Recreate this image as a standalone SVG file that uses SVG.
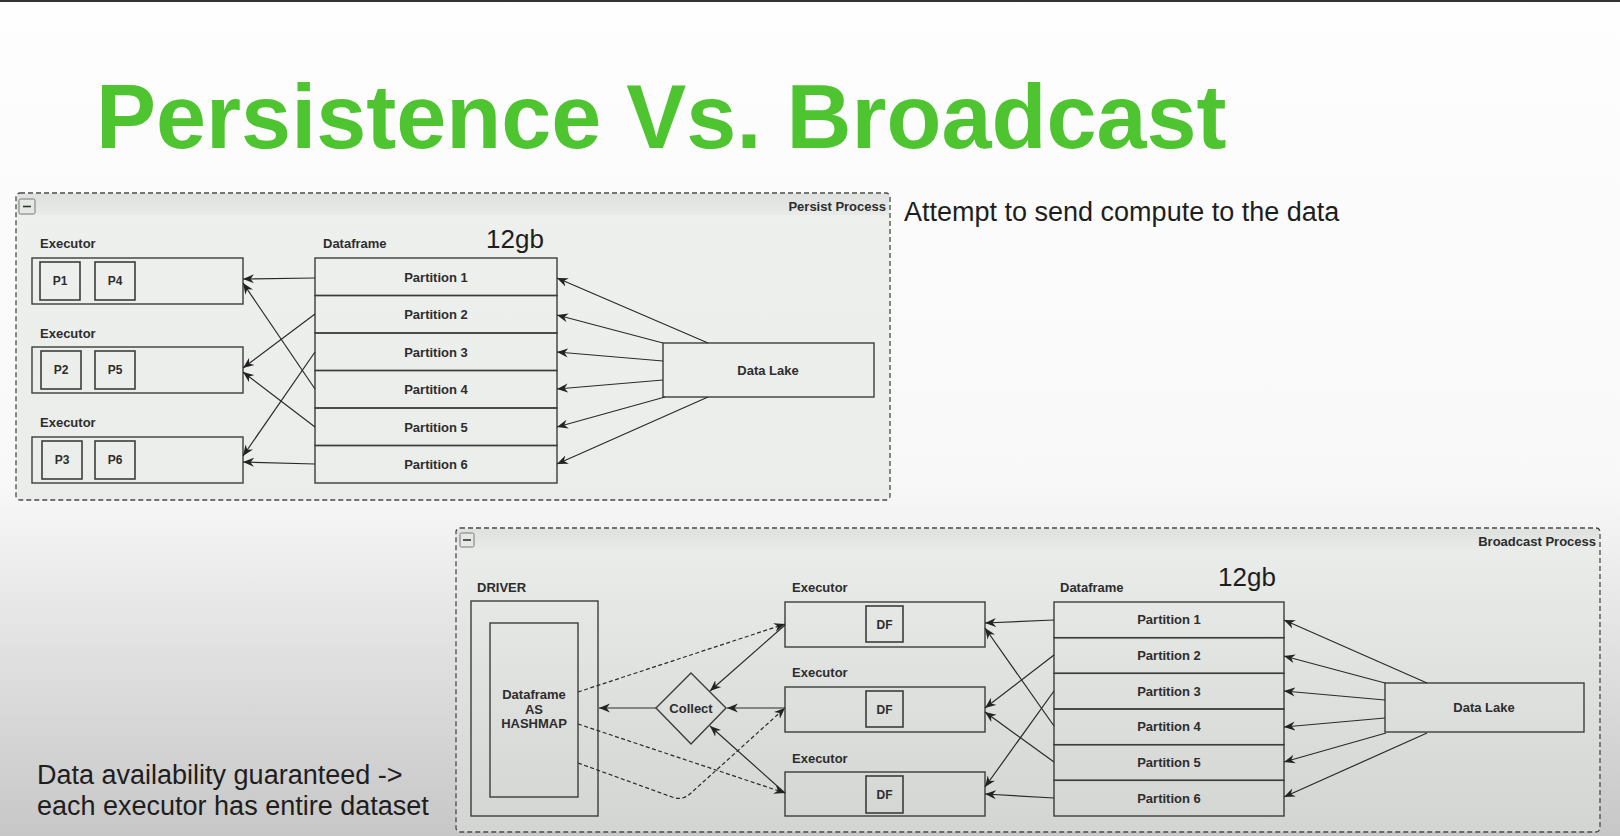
<svg xmlns="http://www.w3.org/2000/svg" width="1620" height="836" viewBox="0 0 1620 836">
  <defs>
    <linearGradient id="slideBg" x1="0" y1="0" x2="0" y2="1">
      <stop offset="0" stop-color="#fdfefd"/>
      <stop offset="0.58" stop-color="#f7f8f7"/>
      <stop offset="1" stop-color="#c6c7c6"/>
    </linearGradient>
    <linearGradient id="persistBody" x1="0" y1="0" x2="0" y2="1">
      <stop offset="0" stop-color="#eef0ee"/>
      <stop offset="1" stop-color="#ebedeb"/>
    </linearGradient>
    <linearGradient id="broadcastBody" x1="0" y1="0" x2="0" y2="1">
      <stop offset="0" stop-color="#eceeec"/>
      <stop offset="1" stop-color="#d3d5d3"/>
    </linearGradient>
    <linearGradient id="header" x1="0" y1="0" x2="0" y2="1">
      <stop offset="0" stop-color="#dfe1df"/>
      <stop offset="1" stop-color="#e9ebe9"/>
    </linearGradient>
    <marker id="ah" viewBox="0 0 12 10" refX="11" refY="5" markerWidth="12" markerHeight="10" markerUnits="userSpaceOnUse" orient="auto">
      <path d="M0,0.5 L11,5 L0,9.5 L3.5,5 z" fill="#222"/>
    </marker>
  </defs>
  <style>
    .box{fill:none;stroke:#3c3c3c;stroke-width:1.4}
    .inner{fill:none;stroke:#3c3c3c;stroke-width:1.6}
    .lbl{font-family:"Liberation Sans",Arial,Helvetica,sans-serif;font-weight:bold;font-size:13px;fill:#2d2d2d}
    .sm{font-size:12px}
    .ctr{text-anchor:middle}
    .end{text-anchor:end}
    .big{font-family:"Liberation Sans",Arial,Helvetica,sans-serif;font-size:26px;fill:#1e1e1e}
    .note{font-family:"Liberation Sans",Arial,Helvetica,sans-serif;font-size:27px;fill:#1e1e1e}
    .frame{stroke:#4a4a4a;stroke-width:1.3;stroke-dasharray:5 3}
    .edge{fill:none;stroke:#2a2a2a;stroke-width:1.2;marker-end:url(#ah)}
    .dash{stroke-dasharray:4 2.5}
  </style>

  <!-- slide background -->
  <rect x="0" y="0" width="1620" height="836" fill="url(#slideBg)"/>
  <rect x="0" y="0" width="1620" height="2" fill="#333"/>

  <!-- title -->
  <text x="96" y="148" font-family="'Liberation Sans',Arial,Helvetica,sans-serif" font-weight="bold" font-size="90" fill="#4ec530">Persistence Vs. Broadcast</text>

  <text class="note" x="904" y="221">Attempt to send compute to the data</text>
  <text class="note" x="37" y="784">Data availability guaranteed -&gt;</text>
  <text class="note" x="37" y="815">each executor has entire dataset</text>

  <!-- ===== Persist Process frame ===== -->
  <g id="persist-frame">
    <rect x="16" y="193" width="874" height="307" rx="4" fill="url(#persistBody)" stroke="none"/>
    <rect x="17" y="194" width="872" height="21" fill="url(#header)"/>
    <rect class="frame" x="16" y="193" width="874" height="307" rx="4" fill="none"/>
    <rect x="19" y="199" width="16" height="15" rx="1.5" fill="#e6e8e6" stroke="#777" stroke-width="1"/>
    <line x1="23" y1="206.5" x2="31" y2="206.5" stroke="#333" stroke-width="1.6"/>
    <text class="lbl end" x="886" y="211" font-size="15">Persist Process</text>
    <text class="lbl" x="323" y="248">Dataframe</text>
    <text class="big" x="486" y="248">12gb</text>
  </g>

  <g id="p-exec1">
    <text class="lbl" x="40" y="248">Executor</text>
    <rect class="box" x="32" y="258" width="211" height="46"/>
    <rect class="inner" x="40" y="262" width="40" height="38"/>
    <text class="lbl sm ctr" x="60" y="285">P1</text>
    <rect class="inner" x="95" y="262" width="40" height="38"/>
    <text class="lbl sm ctr" x="115" y="285">P4</text>
  </g>
  <g id="p-exec2">
    <text class="lbl" x="40" y="338">Executor</text>
    <rect class="box" x="32" y="347" width="211" height="46"/>
    <rect class="inner" x="41" y="351" width="40" height="38"/>
    <text class="lbl sm ctr" x="61" y="374">P2</text>
    <rect class="inner" x="95" y="351" width="40" height="38"/>
    <text class="lbl sm ctr" x="115" y="374">P5</text>
  </g>
  <g id="p-exec3">
    <text class="lbl" x="40" y="427">Executor</text>
    <rect class="box" x="32" y="437" width="211" height="46"/>
    <rect class="inner" x="42" y="441" width="40" height="38"/>
    <text class="lbl sm ctr" x="62" y="464">P3</text>
    <rect class="inner" x="95" y="441" width="40" height="38"/>
    <text class="lbl sm ctr" x="115" y="464">P6</text>
  </g>

  <g id="p-part1"><rect class="box" x="315" y="258" width="242" height="37.5"/><text class="lbl ctr" x="436" y="281.5">Partition 1</text></g>
  <g id="p-part2"><rect class="box" x="315" y="295.5" width="242" height="37.5"/><text class="lbl ctr" x="436" y="319">Partition 2</text></g>
  <g id="p-part3"><rect class="box" x="315" y="333" width="242" height="37.5"/><text class="lbl ctr" x="436" y="356.5">Partition 3</text></g>
  <g id="p-part4"><rect class="box" x="315" y="370.5" width="242" height="37.5"/><text class="lbl ctr" x="436" y="394">Partition 4</text></g>
  <g id="p-part5"><rect class="box" x="315" y="408" width="242" height="37.5"/><text class="lbl ctr" x="436" y="431.5">Partition 5</text></g>
  <g id="p-part6"><rect class="box" x="315" y="445.5" width="242" height="37.5"/><text class="lbl ctr" x="436" y="469">Partition 6</text></g>

  <g id="p-datalake">
    <rect class="box" x="663" y="343" width="211" height="54"/>
    <text class="lbl ctr" x="768" y="374.5">Data Lake</text>
  </g>

  <g id="persist-connectors">
    <path class="edge" d="M315,278 L243,279"/>
    <path class="edge" d="M315,314 L243,368"/>
    <path class="edge" d="M315,352 L243,456"/>
    <path class="edge" d="M315,389 L243,283"/>
    <path class="edge" d="M315,427 L243,372"/>
    <path class="edge" d="M315,464 L243,462"/>
    <path class="edge" d="M708,343 L557,278"/>
    <path class="edge" d="M663,343 L557,315"/>
    <path class="edge" d="M663,361 L557,352"/>
    <path class="edge" d="M663,380 L557,389"/>
    <path class="edge" d="M665,397 L557,427"/>
    <path class="edge" d="M708,397 L557,464"/>
  </g>

  <!-- ===== Broadcast Process frame ===== -->
  <g id="broadcast-frame">
    <rect x="456" y="528" width="1144" height="304" rx="4" fill="url(#broadcastBody)" stroke="none"/>
    <rect x="457" y="529" width="1142" height="21" fill="url(#header)"/>
    <rect class="frame" x="456" y="528" width="1144" height="304" rx="4" fill="none"/>
    <rect x="460" y="533" width="14" height="14" rx="1.5" fill="#e6e8e6" stroke="#777" stroke-width="1"/>
    <line x1="463" y1="540" x2="471" y2="540" stroke="#333" stroke-width="1.6"/>
    <text class="lbl end" x="1596" y="546" font-size="15">Broadcast Process</text>
    <text class="lbl" x="1060" y="592">Dataframe</text>
    <text class="big" x="1218" y="586">12gb</text>
  </g>

  <g id="b-driver">
    <text class="lbl" x="477" y="592">DRIVER</text>
    <rect class="box" x="471" y="601" width="127" height="215"/>
    <rect class="box" x="490" y="623" width="88" height="174"/>
    <text class="lbl ctr" x="534" y="699">Dataframe</text>
    <text class="lbl ctr" x="534" y="713.5">AS</text>
    <text class="lbl ctr" x="534" y="728">HASHMAP</text>
  </g>

  <g id="b-collect">
    <polygon class="box" points="691,673 726,708 691,744 656,708"/>
    <text class="lbl ctr" x="691" y="712.5">Collect</text>
  </g>

  <g id="b-exec1">
    <text class="lbl" x="792" y="592">Executor</text>
    <rect class="box" x="785" y="602" width="200" height="45"/>
    <rect class="inner" x="866" y="606" width="37" height="36"/>
    <text class="lbl sm ctr" x="884.5" y="628.5">DF</text>
  </g>
  <g id="b-exec2">
    <text class="lbl" x="792" y="677">Executor</text>
    <rect class="box" x="785" y="687" width="200" height="45"/>
    <rect class="inner" x="866" y="691" width="37" height="36"/>
    <text class="lbl sm ctr" x="884.5" y="713.5">DF</text>
  </g>
  <g id="b-exec3">
    <text class="lbl" x="792" y="763">Executor</text>
    <rect class="box" x="785" y="772" width="200" height="44"/>
    <rect class="inner" x="866" y="776" width="37" height="37"/>
    <text class="lbl sm ctr" x="884.5" y="799">DF</text>
  </g>

  <g id="b-part1"><rect class="box" x="1054" y="602" width="230" height="35.67"/><text class="lbl ctr" x="1169" y="624.3">Partition 1</text></g>
  <g id="b-part2"><rect class="box" x="1054" y="637.67" width="230" height="35.67"/><text class="lbl ctr" x="1169" y="660">Partition 2</text></g>
  <g id="b-part3"><rect class="box" x="1054" y="673.33" width="230" height="35.67"/><text class="lbl ctr" x="1169" y="695.7">Partition 3</text></g>
  <g id="b-part4"><rect class="box" x="1054" y="709" width="230" height="35.67"/><text class="lbl ctr" x="1169" y="731.3">Partition 4</text></g>
  <g id="b-part5"><rect class="box" x="1054" y="744.67" width="230" height="35.67"/><text class="lbl ctr" x="1169" y="767">Partition 5</text></g>
  <g id="b-part6"><rect class="box" x="1054" y="780.33" width="230" height="35.67"/><text class="lbl ctr" x="1169" y="802.7">Partition 6</text></g>

  <g id="b-datalake">
    <rect class="box" x="1385" y="683" width="199" height="49"/>
    <text class="lbl ctr" x="1484" y="712">Data Lake</text>
  </g>

  <g id="broadcast-connectors">
    <path class="edge" d="M656,708 L599,708"/>
    <path class="edge" d="M785,708 L727,708"/>
    <path class="edge" d="M785,625 L710,691"/>
    <path class="edge" d="M785,793 L710,726"/>
    <path class="edge dash" d="M578,692 L785,624"/>
    <path class="edge dash" d="M578,724 L785,793"/>
    <path class="edge dash" d="M578,763 L672,797 Q683,801 691,793 L785,708"/>
    <path class="edge" d="M1054,620 L985,623"/>
    <path class="edge" d="M1054,655 L985,708"/>
    <path class="edge" d="M1054,691 L985,787"/>
    <path class="edge" d="M1054,726 L985,628"/>
    <path class="edge" d="M1054,762 L985,712"/>
    <path class="edge" d="M1054,798 L985,794"/>
    <path class="edge" d="M1427,683 L1284,620"/>
    <path class="edge" d="M1385,683 L1284,656"/>
    <path class="edge" d="M1385,700 L1284,691"/>
    <path class="edge" d="M1385,718 L1284,727"/>
    <path class="edge" d="M1386,733 L1284,762"/>
    <path class="edge" d="M1427,733 L1284,797"/>
  </g>
</svg>
